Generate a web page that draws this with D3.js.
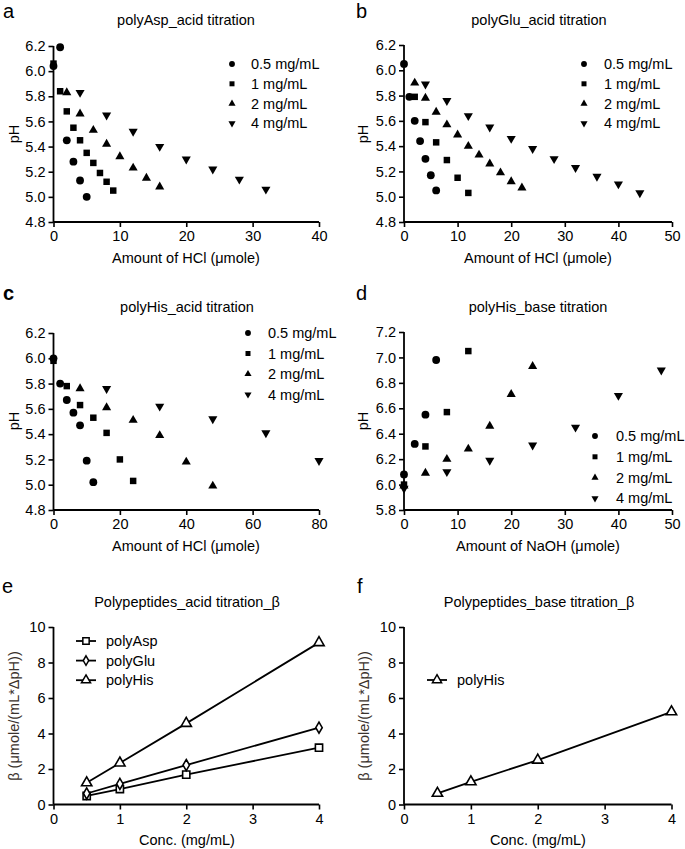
<!DOCTYPE html>
<html>
<head>
<meta charset="utf-8">
<script src="https://cdn.jsdelivr.net/npm/d3@7"></script>
<style>
  html, body { margin: 0; padding: 0; background: #fff; }
  svg { display: block; font-family: "Liberation Sans", Arial, sans-serif; }
</style>
</head>
<body>
<svg id="chart" width="685" height="849"></svg>
<script>
// ---------------- DATA ----------------
const concLabels = ["0.5 mg/mL", "1 mg/mL", "2 mg/mL", "4 mg/mL"];

// a: polyAsp acid titration  [HCl µmole, pH]
const asp05 = [[0, 6.04], [1, 6.19], [2, 5.45], [3, 5.28], [4, 5.13], [5, 5.00]];
const asp1  = [[0, 6.06], [1, 5.84], [2, 5.68], [3, 5.55], [4, 5.45], [5, 5.35], [6, 5.27], [7, 5.19], [8, 5.12], [9, 5.05]];
const asp2  = [[2, 5.83], [4, 5.66], [6, 5.53], [8, 5.42], [10, 5.32], [12, 5.23], [14, 5.15], [16, 5.08]];
const asp4  = [[4, 5.83], [8, 5.65], [12, 5.52], [16, 5.40], [20, 5.30], [24, 5.22], [28, 5.14], [32, 5.06]];

// b: polyGlu acid titration
const glu05 = [[0, 6.05], [1, 5.79], [2, 5.60], [3, 5.44], [4, 5.30], [5, 5.17], [6, 5.05]];
const glu1  = [[2, 5.79], [4, 5.59], [6, 5.43], [8, 5.29], [10, 5.15], [12, 5.03]];
const glu2  = [[2, 5.90], [4, 5.78], [6, 5.67], [8, 5.57], [10, 5.49], [12, 5.40], [14, 5.33], [16, 5.26], [18, 5.19], [20, 5.12], [22, 5.07]];
const glu4  = [[4, 5.89], [8, 5.76], [12, 5.64], [16, 5.55], [20, 5.46], [24, 5.38], [28, 5.30], [32, 5.23], [36, 5.16], [40, 5.10], [44, 5.03]];

// c: polyHis acid titration
const hisA05 = [[0, 6.00], [2, 5.80], [4, 5.67], [6, 5.57], [8, 5.47], [10, 5.19], [12, 5.02]];
const hisA1  = [[0, 5.98], [4, 5.78], [8, 5.63], [12, 5.53], [16, 5.41], [20, 5.20], [24, 5.03]];
const hisA2  = [[8, 5.76], [16, 5.61], [24, 5.51], [32, 5.39], [40, 5.18], [48, 4.99]];
const hisA4  = [[16, 5.76], [32, 5.62], [48, 5.52], [64, 5.41], [80, 5.19]];

// d: polyHis base titration [NaOH µmole, pH]
const hisB05 = [[0, 6.08], [2, 6.32], [4, 6.55], [6, 6.98]];
const hisB1  = [[0, 6.00], [4, 6.30], [8, 6.57], [12, 7.05]];
const hisB2  = [[0, 5.99], [4, 6.09], [8, 6.20], [12, 6.28], [16, 6.46], [20, 6.71], [24, 6.93]];
const hisB4  = [[0, 5.97], [8, 6.10], [16, 6.19], [24, 6.31], [32, 6.45], [40, 6.70], [48, 6.90]];

// e / f: buffer capacity beta vs concentration
const concX = [0.5, 1, 2, 4];
const betaAcidAsp = [0.48, 0.87, 1.68, 3.20];
const betaAcidGlu = [0.62, 1.16, 2.22, 4.33];
const betaAcidHis = [1.22, 2.34, 4.57, 9.12];
const betaBaseHis = [0.63, 1.28, 2.50, 5.22];

const xTicksA = [0, 10, 20, 30, 40];
const xTicksB = [0, 10, 20, 30, 40, 50];
const xTicksC = [0, 20, 40, 60, 80];
const xTicksConc = [0, 1, 2, 3, 4];
const yTicksAcid = [4.8, 5.0, 5.2, 5.4, 5.6, 5.8, 6.0, 6.2];
const yTicksBase = [5.8, 6.0, 6.2, 6.4, 6.6, 6.8, 7.0, 7.2];
const yTicksBeta = [0, 2, 4, 6, 8, 10];

// ---------------- DRAWING ----------------
const svg = d3.select("#chart");
const FS = 14.5;

const symTypes = [d3.symbolCircle, d3.symbolSquare, d3.symbolTriangle, d3.symbolTriangle];
const symRot = [0, 0, 0, 180];
const plotSizes = [48, 42, 36, 36];
const legSizes = [27, 25, 22, 22];

function axes(g, x, y, xTicks, yTicks, yFmt, xFmt) {
  const ax = g.append("g").attr("transform", `translate(0,${y.range()[0]})`)
    .call(d3.axisBottom(x).tickValues(xTicks).tickSize(5).tickPadding(4).tickFormat(xFmt || d3.format("d")));
  const ay = g.append("g").attr("transform", `translate(${x.range()[0]},0)`)
    .call(d3.axisLeft(y).tickValues(yTicks).tickSize(5).tickPadding(3).tickFormat(yFmt));
  [ax, ay].forEach(a => {
    a.select(".domain").attr("stroke", "#000").attr("stroke-width", 1.8);
    a.selectAll(".tick line").attr("stroke", "#000").attr("stroke-width", 1.6);
    a.selectAll(".tick text").attr("fill", "#000").style("font-size", FS + "px")
      .style("font-family", '"Liberation Sans", Arial, sans-serif');
  });
  ax.select(".domain").attr("d", `M${x.range()[0]},0H${x.range()[1]}`);
  ay.select(".domain").attr("d", `M0,${y.range()[0]}V${y.range()[1]}`);
}

function texts(opts) {
  svg.append("text").attr("x", opts.lx).attr("y", opts.ly)
    .style("font-size", "20px").style("font-weight", opts.bold ? "bold" : "normal").text(opts.letter);
  svg.append("text").attr("x", opts.tx).attr("y", opts.ty).attr("text-anchor", "middle")
    .style("font-size", FS + "px").text(opts.title);
  svg.append("text").attr("x", opts.tx2).attr("y", opts.xty).attr("text-anchor", "middle")
    .style("font-size", FS + "px").text(opts.xTitle);
  svg.append("text").attr("transform", `translate(${opts.ytx},${opts.yty}) rotate(-90)`)
    .attr("text-anchor", "middle").attr("fill", opts.yColor || "#000")
    .style("font-size", FS + "px").text(opts.yTitle);
}

function scatterPanel(p) {
  const x = d3.scaleLinear().domain(p.xDom).range(p.xRange);
  const y = d3.scaleLinear().domain(p.yDom).range(p.yRange);
  const g = svg.append("g");
  axes(g, x, y, p.xTicks, p.yTicks, d3.format(".1f"));
  p.series.forEach((s, i) => {
    g.append("g").selectAll("path").data(s).join("path")
      .attr("d", d3.symbol(symTypes[i], plotSizes[i]))
      .attr("transform", d => `translate(${x(d[0])},${y(d[1])}) rotate(${symRot[i]})`)
      .attr("fill", "#000");
  });
  const lg = svg.append("g");
  concLabels.forEach((lab, i) => {
    const yy = p.legY + i * p.legDy;
    lg.append("path").attr("d", d3.symbol(symTypes[i], legSizes[i]))
      .attr("transform", `translate(${p.legX},${yy}) rotate(${symRot[i]})`).attr("fill", "#000");
    lg.append("text").attr("x", p.legTX).attr("y", yy + 5).style("font-size", FS + "px").text(lab);
  });
  texts(p);
}

scatterPanel({
  xDom: [0, 40], xRange: [53.5, 319], yDom: [4.8, 6.2], yRange: [222, 46],
  xTicks: xTicksA, yTicks: yTicksAcid, series: [asp05, asp1, asp2, asp4],
  legX: 232, legTX: 251, legY: 64, legDy: 19.8,
  letter: "a", lx: 3, ly: 18, title: "polyAsp_acid titration", tx: 186, ty: 25,
  xTitle: "Amount of HCl (\u03bcmole)", tx2: 186, xty: 263, yTitle: "pH", ytx: 19, yty: 134
});
scatterPanel({
  xDom: [0, 50], xRange: [404, 672], yDom: [4.8, 6.2], yRange: [222, 45],
  xTicks: xTicksB, yTicks: yTicksAcid, series: [glu05, glu1, glu2, glu4],
  legX: 584, legTX: 604, legY: 64, legDy: 19.8,
  letter: "b", lx: 356, ly: 18, title: "polyGlu_acid titration", tx: 539, ty: 25,
  xTitle: "Amount of HCl (\u03bcmole)", tx2: 538, xty: 263, yTitle: "pH", ytx: 368, yty: 134
});
scatterPanel({
  xDom: [0, 80], xRange: [53.5, 319], yDom: [4.8, 6.2], yRange: [510, 333],
  xTicks: xTicksC, yTicks: yTicksAcid, series: [hisA05, hisA1, hisA2, hisA4],
  legX: 248, legTX: 268, legY: 333, legDy: 20.5,
  letter: "c", bold: true, lx: 3, ly: 300, title: "polyHis_acid titration", tx: 187, ty: 312,
  xTitle: "Amount of HCl (\u03bcmole)", tx2: 186, xty: 551, yTitle: "pH", ytx: 19, yty: 421
});
scatterPanel({
  xDom: [0, 50], xRange: [404, 672], yDom: [5.8, 7.2], yRange: [510, 332],
  xTicks: xTicksB, yTicks: yTicksBase, series: [hisB05, hisB1, hisB2, hisB4],
  legX: 595, legTX: 616, legY: 436, legDy: 20.8,
  letter: "d", lx: 356, ly: 300, title: "polyHis_base titration", tx: 538, ty: 312,
  xTitle: "Amount of NaOH (\u03bcmole)", tx2: 538, xty: 551, yTitle: "pH", ytx: 368, yty: 421
});

// ---- beta panels ----
const openTypes = { sq: d3.symbolSquare, di: d3.symbolDiamond, tri: d3.symbolTriangle };
const openSizes = { sq: 52, di: 36, tri: 46 };
const legOpenSizes = { sq: 40, di: 26, tri: 36 };

function betaPanel(p) {
  const x = d3.scaleLinear().domain([0, 4]).range(p.xRange);
  const y = d3.scaleLinear().domain([0, 10]).range([804.5, 627]);
  const g = svg.append("g");
  axes(g, x, y, xTicksConc, yTicksBeta, d3.format("d"));
  const line = d3.line().x((d, i) => x(concX[i])).y(d => y(d));
  p.series.forEach(s => {
    g.append("path").datum(s.vals).attr("d", line).attr("fill", "none")
      .attr("stroke", "#000").attr("stroke-width", 1.8);
  });
  p.series.forEach(s => {
    g.append("g").selectAll("path").data(s.vals).join("path")
      .attr("d", d3.symbol(openTypes[s.sym], openSizes[s.sym]))
      .attr("transform", (d, i) => `translate(${x(concX[i])},${y(d)})`)
      .attr("fill", "#fff").attr("stroke", "#000").attr("stroke-width", 1.6);
  });
  p.series.forEach((s, i) => {
    const yy = p.legY + i * 19.6;
    svg.append("line").attr("x1", p.legX - 10).attr("x2", p.legX + 10).attr("y1", yy).attr("y2", yy)
      .attr("stroke", "#000").attr("stroke-width", 1.8);
    svg.append("path").attr("d", d3.symbol(openTypes[s.sym], legOpenSizes[s.sym]))
      .attr("transform", `translate(${p.legX},${yy})`)
      .attr("fill", "#fff").attr("stroke", "#000").attr("stroke-width", 1.5);
    svg.append("text").attr("x", p.legX + 20).attr("y", yy + 5).style("font-size", FS + "px").text(s.name);
  });
  texts(p);
}

betaPanel({
  xRange: [53.5, 319],
  series: [
    { name: "polyAsp", sym: "sq", vals: betaAcidAsp },
    { name: "polyGlu", sym: "di", vals: betaAcidGlu },
    { name: "polyHis", sym: "tri", vals: betaAcidHis }
  ],
  legX: 86, legY: 641,
  letter: "e", lx: 2, ly: 593, title: "Polypeptides_acid titration_\u03b2", tx: 187, ty: 607,
  xTitle: "Conc. (mg/mL)", tx2: 187, xty: 845,
  yTitle: "\u03b2 (\u03bcmole/(mL*\u0394pH))", ytx: 19, yty: 716, yColor: "#3a322c"
});
betaPanel({
  xRange: [404, 671.5],
  series: [
    { name: "polyHis", sym: "tri", vals: betaBaseHis }
  ],
  legX: 437, legY: 680,
  letter: "f", lx: 357, ly: 593, title: "Polypeptides_base titration_\u03b2", tx: 539, ty: 607,
  xTitle: "Conc. (mg/mL)", tx2: 538, xty: 845,
  yTitle: "\u03b2 (\u03bcmole/(mL*\u0394pH))", ytx: 369, yty: 716, yColor: "#3a322c"
});
</script>
</body>
</html>
